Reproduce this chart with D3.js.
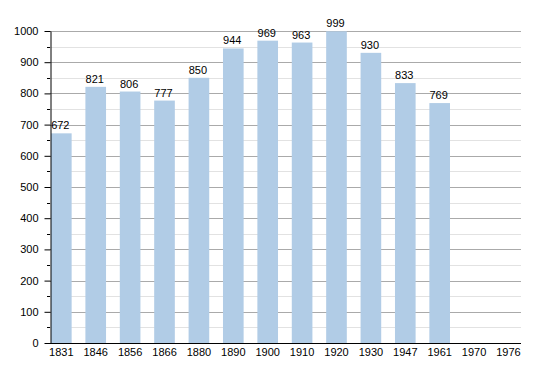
<!DOCTYPE html>
<html>
<head>
<meta charset="utf-8">
<script src="https://cdn.jsdelivr.net/npm/d3@7"></script>
<style>
  body { margin: 0; background: #fff; }
  text { font-family: "Liberation Sans", Arial, sans-serif; font-size: 11px; fill: #000; }
</style>
</head>
<body>
<div id="chart"></div>
<script>
// years and population (1970 and 1976 have no bar)
const YEARS = ["1831", "1846", "1856", "1866", "1880", "1890", "1900", "1910", "1920", "1930", "1947", "1961", "1970", "1976"];
const POP = [672, 821, 806, 777, 850, 944, 969, 963, 999, 930, 833, 769, null, null];
const Y_TICKS = [0, 100, 200, 300, 400, 500, 600, 700, 800, 900, 1000];
const Y_MINOR = [50, 150, 250, 350, 450, 550, 650, 750, 850, 950];

const CH = {
    W: 550, H: 373,
    AXIS_X: 50, GRID_END: 521,
    TOP: 31, BOTTOM: 343,
    BAR_COLOR: "#b1cce6"
};

var x = d3.scaleBand()
          .domain(YEARS)
          .range([51, 518.8])
          .paddingInner(0.4)
          .paddingOuter(0);

var y = d3.scaleLinear()
          .domain([0, 1000])
          .range([CH.BOTTOM, CH.TOP]);

var svg = d3.select("#chart").append("svg")
            .attr("width", CH.W)
            .attr("height", CH.H);

// minor grid
svg.append("g").selectAll("line")
   .data(Y_MINOR)
   .enter().append("line")
   .attr("x1", CH.AXIS_X).attr("x2", CH.GRID_END)
   .attr("y1", (d) => Math.round(y(d)) + 0.5)
   .attr("y2", (d) => Math.round(y(d)) + 0.5)
   .attr("stroke", "#e2e2e2");

// major grid
svg.append("g").selectAll("line")
   .data(Y_TICKS.filter((d) => d > 0))
   .enter().append("line")
   .attr("x1", CH.AXIS_X).attr("x2", CH.GRID_END)
   .attr("y1", (d) => Math.round(y(d)) + 0.5)
   .attr("y2", (d) => Math.round(y(d)) + 0.5)
   .attr("stroke", "#aaaaaa");

// bars
var data = YEARS.map((d, i) => ({year: d, value: POP[i]})).filter((d) => d.value !== null);
svg.append("g").selectAll("rect")
   .data(data)
   .enter().append("rect")
   .attr("x", (d) => x(d.year))
   .attr("y", (d) => y(d.value))
   .attr("width", x.bandwidth())
   .attr("height", (d) => y(0) - y(d.value))
   .attr("fill", CH.BAR_COLOR);

// value labels
svg.append("g").selectAll("text")
   .data(data)
   .enter().append("text")
   .attr("x", (d) => x(d.year) + x.bandwidth() / 2 - 1)
   .attr("y", (d) => y(d.value) - 4)
   .attr("text-anchor", "middle")
   .text((d) => d.value);

// y axis
var yAxis = svg.append("g")
               .attr("transform", "translate(" + (CH.AXIS_X + 0.5) + ",0)")
               .call(d3.axisLeft(y).tickValues(Y_TICKS).tickFormat(d3.format("d"))
                       .tickSize(6).tickPadding(6).tickSizeOuter(0));
yAxis.select(".domain").attr("stroke", "#000");
yAxis.selectAll("text").style("font-size", "11px");
svg.append("g").selectAll("line")
   .data(Y_MINOR)
   .enter().append("line")
   .attr("x1", CH.AXIS_X - 3).attr("x2", CH.AXIS_X)
   .attr("y1", (d) => Math.round(y(d)) + 0.5)
   .attr("y2", (d) => Math.round(y(d)) + 0.5)
   .attr("stroke", "#000");

// x axis
var xAxis = svg.append("g")
               .attr("transform", "translate(0," + (CH.BOTTOM + 0.5) + ")")
               .call(d3.axisBottom(x).tickSize(0).tickPadding(5));
xAxis.select(".domain").remove();
xAxis.selectAll("text").style("font-size", "11px");
svg.append("line")
   .attr("x1", 46).attr("x2", CH.GRID_END)
   .attr("y1", CH.BOTTOM + 0.5).attr("y2", CH.BOTTOM + 0.5)
   .attr("stroke", "#000");
</script>
</body>
</html>
